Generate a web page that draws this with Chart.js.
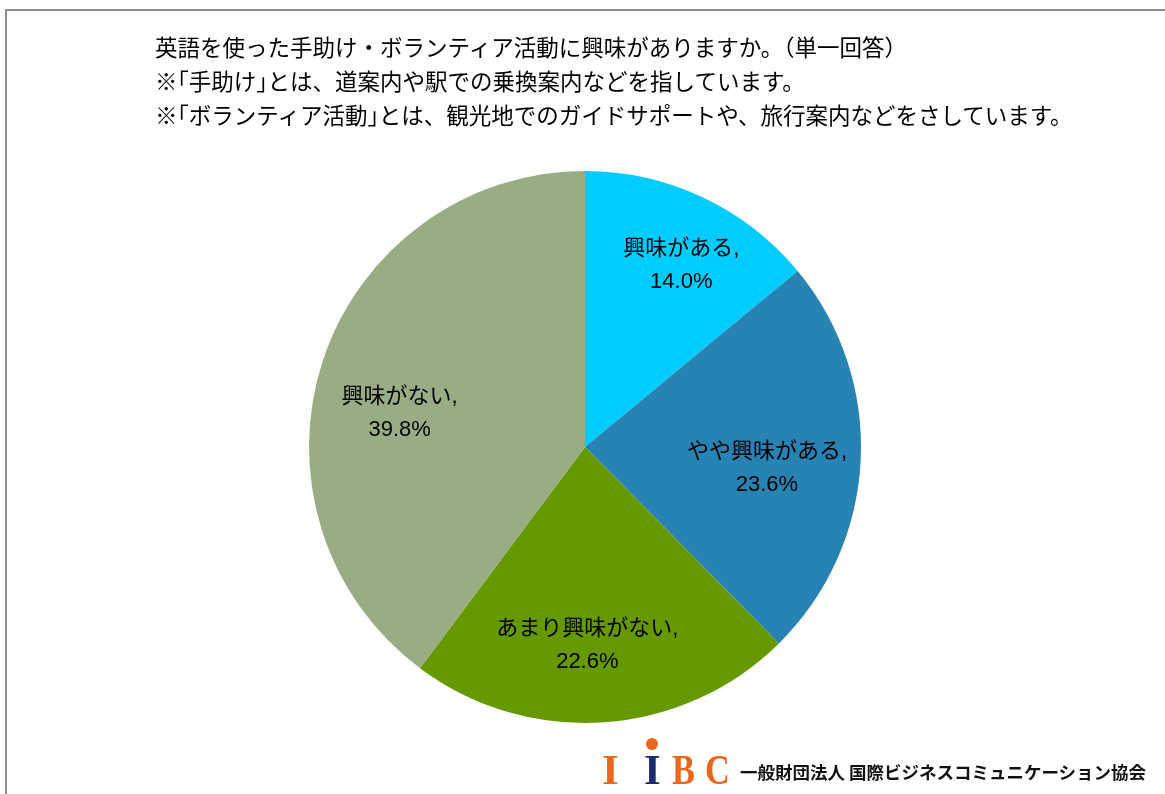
<!DOCTYPE html>
<html lang="ja">
<head>
<meta charset="utf-8">
<script src="https://cdn.jsdelivr.net/npm/chart.js@4.4.0/dist/chart.umd.min.js"></script>
<style>
    html, body { margin: 0; padding: 0; background: #fff; }
    #wrap { position: relative; width: 1165px; height: 794px; overflow: hidden; }
    #frame {
        position: absolute; left: 5px; top: 9px; width: 1200px; height: 900px;
        border-left: 2px solid #8e8e8e; border-top: 2px solid #8e8e8e;
    }
    #title {
        position: absolute; left: 155px; top: 29px;
        font-family: "Noto Sans CJK JP", sans-serif; font-size: 22.5px; line-height: 34px;
        color: #000; white-space: nowrap;
    }
    #title .half { font-feature-settings: "halt"; }
    .logo {
        position: absolute; top: 745px;
        font-family: "Liberation Serif", serif; font-weight: bold; font-size: 43px;
        color: #e8671c; white-space: nowrap;
        transform-origin: left center;
    }
    .narrow { transform: scaleX(0.8); }
    #dot {
        position: absolute; left: 646px; top: 738px; width: 12px; height: 12px;
        border-radius: 50%; background: #e8671c;
    }
    #org {
        position: absolute; left: 740px; top: 759px;
        font-family: "Noto Sans CJK JP", sans-serif; font-weight: bold; font-size: 17.5px;
        color: #111; white-space: nowrap;
    }
    canvas { position: absolute; left: 0; top: 0; }
</style>
</head>
<body>
<div id="wrap">
    <canvas id="pieChart" width="1165" height="794"></canvas>
    <div id="frame"></div>
    <div id="title"></div>
    <span class="logo" style="left:602px">I</span>
    <span class="logo" style="left:644px;color:#1c2a6e">I</span>
    <div id="dot"></div>
    <span class="logo narrow" style="left:672px">B</span>
    <span class="logo narrow" style="left:705px">C</span>
    <div id="org">一般財団法人 国際ビジネスコミュニケーション協会</div>
</div>
<script>
// data
const titleLines = [
    '英語を使った手助け・ボランティア活動に興味がありますか。（単一回答）',
    '※「手助け」とは、道案内や駅での乗換案内などを指しています。',
    '※「ボランティア活動」とは、観光地でのガイドサポートや、旅行案内などをさしています。'
];
const categories = ['興味がある', 'やや興味がある', 'あまり興味がない', '興味がない'];
const percentages = [14.0, 23.6, 22.6, 39.8];

// styles
const sliceColors = ['#00ccff', '#2683b4', '#669900', '#99ad84'];
// label nudges from the default spot (0.7 of the radius on the mid angle)
const labelNudge = [[14, -7], [-11, 11], [-11, 5], [-2, 27]];

// narrow corner brackets like the original proportional font
document.getElementById('title').innerHTML = titleLines
    .map(line => line.replace(/([「」])/g, '<span class="half">$1</span>'))
    .join('<br>');

// Draws "category," and "value%" inside each slice
const sliceLabels = {
    id: 'sliceLabels',
    afterDatasetsDraw(chart) {
        const ctx = chart.ctx;
        const meta = chart.getDatasetMeta(0);
        ctx.save();
        ctx.fillStyle = '#000';
        ctx.textAlign = 'center';
        ctx.textBaseline = 'middle';
        ctx.font = '22px "Liberation Sans", "Noto Sans CJK JP", sans-serif';
        meta.data.forEach((arc, i) => {
            const p = arc.getProps(['x', 'y', 'startAngle', 'endAngle', 'outerRadius'], true);
            const mid = (p.startAngle + p.endAngle) / 2;
            const r = p.outerRadius * 0.7;
            const x = p.x + Math.cos(mid) * r + labelNudge[i][0];
            const y = p.y + Math.sin(mid) * r + labelNudge[i][1];
            ctx.fillText(categories[i] + ',', x, y - 16);
            ctx.fillText(percentages[i].toFixed(1) + '%', x, y + 17);
        });
        ctx.restore();
    }
};

const pieChart = new Chart(document.getElementById('pieChart').getContext('2d'), {
    type: 'pie',
    data: {
        labels: categories,
        datasets: [{
            data: percentages,
            backgroundColor: sliceColors,
            borderWidth: 0
        }]
    },
    options: {
        responsive: false,
        animation: false,
        layout: {
            padding: { top: 171, bottom: 71, left: 309, right: 304 }
        },
        plugins: {
            legend: { display: false },
            tooltip: { enabled: false }
        }
    },
    plugins: [sliceLabels]
});
</script>
</body>
</html>
